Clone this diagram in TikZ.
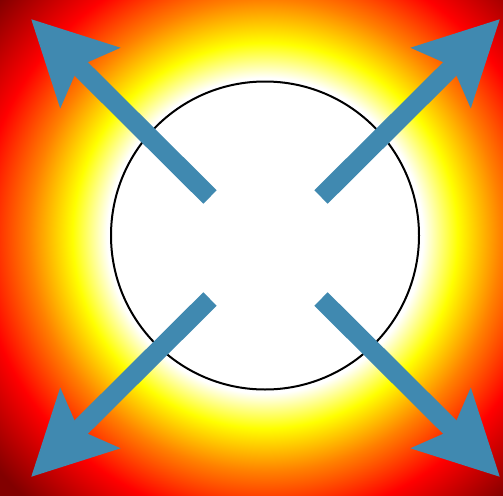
\documentclass[tikz,border=0pt]{standalone}
\usetikzlibrary{arrows.meta}
\definecolor{arrowblue}{RGB}{64,137,176}
\definecolor{glowred}{RGB}{255,0,0}
\definecolor{glowdark}{RGB}{130,0,0}
\pgfdeclareradialshading{glow}{\pgfpoint{0bp}{0bp}}{%
  color(0bp)=(white); color(157bp)=(white); color(192bp)=(yellow);
  color(235bp)=(orange); color(285bp)=(glowred); color(354bp)=(glowdark);
  color(420bp)=(glowdark)}
\begin{document}
\begin{tikzpicture}[x=1pt,y=-1pt,>={Stealth[length=82pt,width=82pt,inset=15pt]}]
\useasboundingbox (0,0) rectangle (503,495);
\clip (0,0) rectangle (503,495);
% 背景光晕
\node[inner sep=0pt] (glow) at (265,235.5) {\pgfuseshading{glow}};
\draw[line width=2pt,fill=white] (265,235.5) circle (154);
% 箭头端点
\coordinate (tlstart) at (210,197);
\coordinate (trstart) at (321,197);
\coordinate (blstart) at (210,299);
\coordinate (brstart) at (321,299);
\coordinate (tltip) at (31,19);
\coordinate (trtip) at (500,19);
\coordinate (bltip) at (31,477);
\coordinate (brtip) at (500,477);
% 四个箭头
\foreach \s/\t in {tlstart/tltip,trstart/trtip,blstart/bltip,brstart/brtip}
  \draw[->,arrowblue,line width=19pt] (\s) -- (\t);
\end{tikzpicture}
\end{document}
